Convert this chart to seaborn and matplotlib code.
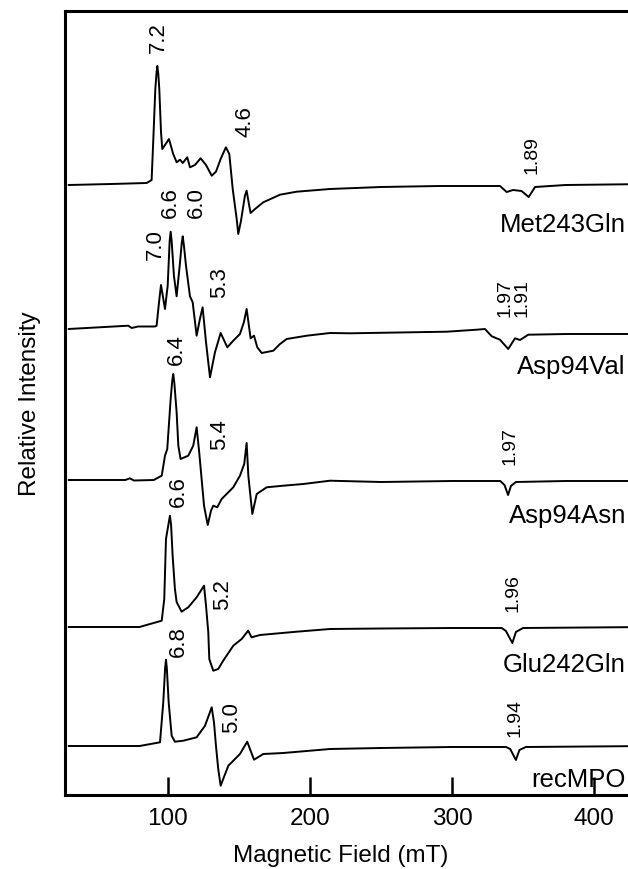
import numpy as np
import matplotlib
matplotlib.use("Agg")
import matplotlib.pyplot as plt
import seaborn as sns

# ---------------- data ----------------
# field in mT, intensity in relative units (baseline = 0)
met_field = [30, 60, 85, 88.5, 89.7, 91.1, 92.0, 92.5, 93.2, 93.9, 95.1, 96.0, 97.9, 100.7, 103.7,
             106.1, 108.5, 110.4, 113.6, 115.5, 119.0, 123.0, 126.8, 130.8, 133.8, 137.1, 140.8,
             143.2, 145.6, 148.4, 149.5, 151.4, 154.2, 155.4, 157.0, 158.2, 161.3, 167.1, 178.9,
             190.6, 214.1, 250, 291.5, 333.8, 338.5, 343, 349, 354, 358.5, 380, 440]
met_int = [-1, 0, 1, 4, 45, 95, 112, 118, 110, 95, 52, 35, 39, 45, 30,
           21.7, 24.3, 21, 26.7, 16.7, 19, 25.7, 19, 8.3, 12.3, 25, 36.7,
           30, -5, -35, -50, -37, -11.7, -6.7, -20, -29, -25, -18.3, -10.7,
           -7.7, -5, -3, -2, -2, -8, -6, -7, -13, -3, -1, 0]

val_field = [30, 72.0, 74.5, 78.9, 90.8, 92.0, 93.7, 95.1, 97.9, 99.8, 101.2, 101.9, 102.6, 104.2,
             106.1, 108.5, 109.7, 110.4, 111.2, 112.7, 115.5, 117.4, 120.2, 122.5, 124.4, 126.8,
             129.6, 133.1, 137.1, 141.8, 146.0, 150.7, 153.5, 155.4, 158.2, 160.6, 162.9, 166.0,
             174.2, 178.9, 183.6, 197.7, 214.1, 228.2, 296.3, 317.4, 323.2, 328.0, 333.8, 339.6,
             344.4, 347.9, 353.7, 380.8, 440]
val_int = [0, 3.3, 1, 2.5, 2.5, 3.3, 26.7, 44, 20, 43.3, 88, 97.3, 88, 53.3,
           32.7, 66.7, 86, 92.7, 84, 63.3, 32.7, 26.7, -6.7, 10, 21.7, -13.3,
           -48.3, -23.3, -4, -18.3, -11.7, -5, 7, 20, -9.3, -6.7, -18.3, -24,
           -21.7, -15, -10, -6.7, -4, -4.3, -2.7, -0.7, 0, -7.3, -10.7, -20,
           -9.3, -11, -5.7, -5, -5]

asn_field = [30, 70, 73.2, 76, 90, 95.6, 97.9, 99.5, 101.9, 103.0, 103.7, 104.5, 106.1, 107.3,
             108.9, 114.3, 117.8, 120.2, 122.0, 123.7, 125.4, 128.0, 130.3, 131.9, 134.7, 137.8,
             141.3, 146.0, 150.7, 153.7, 155.4, 156.6, 159.4, 162.5, 169.5, 181.2, 195.3, 214.1,
             250, 300, 334, 337, 339.5, 341.5, 345, 380, 440]
asn_int = [1, 1, 2.7, 0.5, 1, 5.3, 25.3, 32, 82, 100, 107, 98, 68.7, 35.3,
           22, 25.3, 35.3, 53.7, 28.7, 2, -24.7, -44, -29.7, -24.7, -26.3, -18,
           -13, -6.3, 5.3, 17, 38, 5.3, -33, -13, -6.3, -4.7, -3, 0.3,
           -1, 0, 0, -4, -14, -5, -1, 0, 0]

glu_field = [30, 80, 95.6, 97.4, 98.6, 100.5, 101.4, 102.2, 103.3, 104.9, 106.1, 109.6, 114.3,
             120.2, 125.4, 126.8, 128.4, 129.1, 131.9, 135.4, 138.9, 146.0, 151.9, 156.5, 158.9,
             164.8, 190.6, 214.1, 250, 300, 335, 338, 342.5, 345, 350, 440]
glu_int = [0, 0, 6.3, 28, 88, 104, 111.3, 102, 71, 38, 25, 15.3, 19.7,
           29.7, 41.3, 21.3, -5.3, -32, -43.7, -42, -33.7, -18.7, -12, -3.7, -10.3,
           -8, -4.7, -2, -1.5, -1, -1, -4, -16, -5, -1, 0]

rec_field = [30, 80, 94.4, 96.7, 98.0, 98.6, 99.2, 100.5, 102.6, 104.9, 110.8, 115.5, 120.2,
             126.1, 129.1, 130.8, 132.4, 133.8, 135.4, 137.1, 142.5, 150.7, 155.8, 160.6, 167.1,
             181.2, 214.1, 250, 300, 338, 341, 345, 347.5, 352, 440]
rec_int = [0, 0, 3.7, 43.7, 78, 86.3, 78, 43.7, 10.3, 4.3, 5.3, 7, 8.7,
           20.3, 32, 38.7, 23.7, 0.3, -23, -39.7, -19.7, -8, 4.3, -13.7, -8,
           -7, -3, -2, -1, -1, -3, -14, -4, -1, 0]

trace_names = ["Met243Gln", "Asp94Val", "Asp94Asn", "Glu242Gln", "recMPO"]
trace_offsets = [611, 466, 314, 168, 49]
name_y = [564, 422, 273, 124, 9]

peak_text = ["7.2", "6.6", "6.0", "4.6", "7.0", "5.3", "6.4", "5.4", "6.6", "5.2", "6.8", "5.0"]
peak_field = [93.0, 101.4, 119.7, 154.2, 90.8, 136.6, 106.1, 136.6, 107.0, 138.5, 107.0, 144.9]
peak_y = [758, 593, 593, 674, 551, 513, 446, 361, 304, 201, 154, 78]

g_text = ["1.89", "1.97", "1.91", "1.97", "1.96", "1.94"]
g_field = [356.1, 337.3, 349.6, 340.8, 343.0, 344.4]
g_y = [641, 498, 498, 350, 203, 78]

x_ticks = [100, 200, 300, 400]

# ---------------- plot ----------------
sns.set_style("ticks")
plt.rcParams["font.family"] = ["Liberation Sans", "DejaVu Sans"]
plt.rcParams["text.color"] = "black"
plt.rcParams["axes.labelcolor"] = "black"
plt.rcParams["xtick.color"] = "black"
plt.rcParams["axes.edgecolor"] = "black"

fig = plt.figure(figsize=(6.28, 8.70), dpi=100)
ax = fig.add_axes([65 / 628, 74 / 870, 585.8 / 628, 784 / 870])

fields = [met_field, val_field, asn_field, glu_field, rec_field]
ints = [met_int, val_int, asn_int, glu_int, rec_int]
for f, i, off in zip(fields, ints, trace_offsets):
    sns.lineplot(x=np.array(f), y=np.array(i) + off, ax=ax, color="black",
                 linewidth=1.4, sort=False, estimator=None)

for name, yy in zip(trace_names, name_y):
    ax.text(422.5, yy, name, ha="right", va="baseline", fontsize=18.5, color="black")

for t, f, yy in zip(peak_text, peak_field, peak_y):
    ax.text(f, yy, t, rotation=90, ha="center", va="center", fontsize=16, color="black")

for t, f, yy in zip(g_text, g_field, g_y):
    ax.text(f, yy, t, rotation=90, ha="center", va="center", fontsize=14, color="black")

ax.set_xlim(27.5, 440)
ax.set_ylim(0, 784)
ax.set_xticks(x_ticks)
ax.set_xticklabels([str(t) for t in x_ticks])
ax.set_yticks([])
ax.tick_params(axis="x", direction="in", length=13, width=1.8, labelsize=17.5, pad=9,
               colors="black")
for s in ["left", "bottom", "top", "right"]:
    ax.spines[s].set_linewidth(2.2)
    ax.spines[s].set_color("black")

ax.set_xlabel("Magnetic Field (mT)", fontsize=17.5, color="black")
ax.xaxis.set_label_coords(0.471, -0.0765)
ax.xaxis.label.set_verticalalignment("center")
ax.set_ylabel("Relative Intensity", fontsize=17.5, color="black")
ax.yaxis.set_label_coords(-0.0597, 0.5)
ax.yaxis.label.set_verticalalignment("center")

fig.savefig("out.png", dpi=100)
